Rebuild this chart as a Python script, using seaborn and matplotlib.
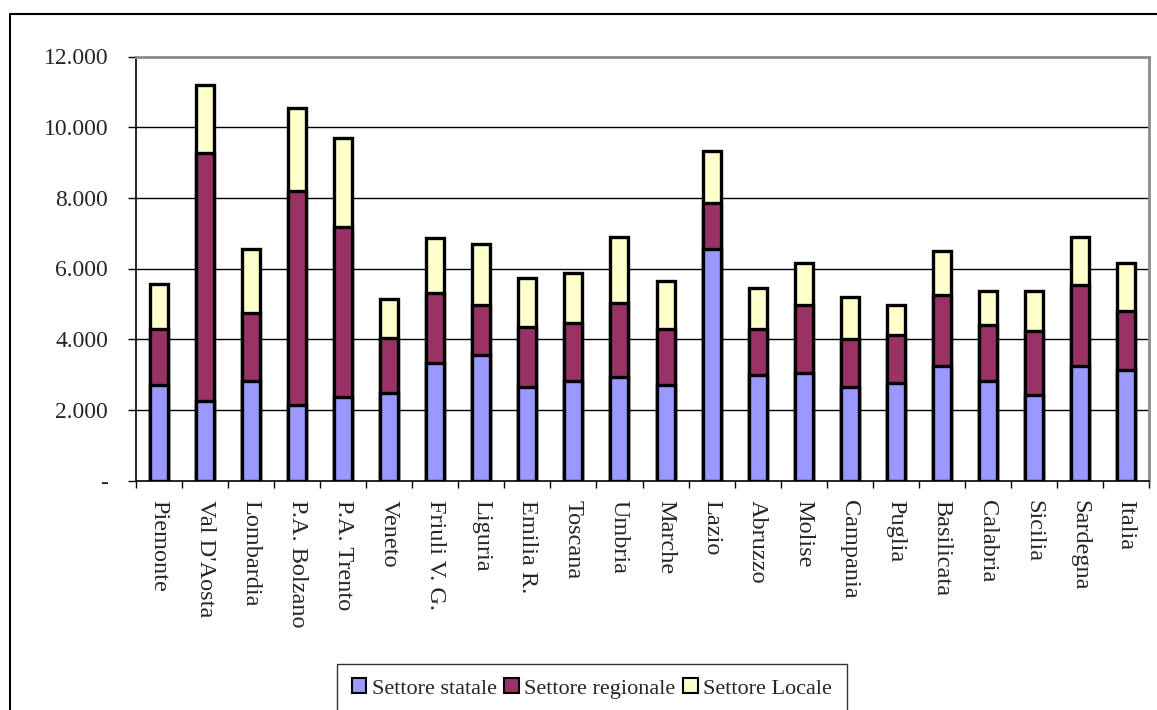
import numpy as np
import matplotlib
matplotlib.use("Agg")
import matplotlib.pyplot as plt
from matplotlib.patches import Patch
from matplotlib.lines import Line2D
from matplotlib.ticker import FuncFormatter
import seaborn as sns

# Per-capita spending by region, split by sector
regions = ["Piemonte", "Val D'Aosta", "Lombardia", "P.A. Bolzano", "P.A. Trento",
           "Veneto", "Friuli V. G.", "Liguria", "Emilia R.", "Toscana", "Umbria",
           "Marche", "Lazio", "Abruzzo", "Molise", "Campania", "Puglia",
           "Basilicata", "Calabria", "Sicilia", "Sardegna", "Italia"]

settore_statale = [2700, 2250, 2810, 2150, 2370, 2480, 3330, 3560, 2650, 2820, 2930,
                   2700, 6560, 2980, 3050, 2650, 2760, 3230, 2810, 2430, 3230, 3120]
settore_regionale = [1590, 7020, 1930, 6050, 4800, 1540, 1990, 1420, 1700, 1640, 2100,
                     1590, 1300, 1310, 1910, 1350, 1350, 2020, 1590, 1810, 2300, 1690]
settore_locale = [1260, 1930, 1820, 2330, 2520, 1130, 1540, 1700, 1370, 1420, 1870,
                  1360, 1470, 1150, 1200, 1200, 860, 1250, 970, 1130, 1370, 1350]

series_names = ["Settore statale", "Settore regionale", "Settore Locale"]
series_colors = ["#9999FF", "#993366", "#FFFFCC"]

yticks = [0, 2000, 4000, 6000, 8000, 10000, 12000]

sns.set_style("white")
plt.rcParams["font.family"] = ["Liberation Serif", "DejaVu Serif"]

fig = plt.figure(figsize=(11.57, 7.10), dpi=100)
ax = fig.add_axes([136 / 1157, 1 - 480.5 / 710, (1149 - 136) / 1157, (480.5 - 56.5) / 710])

statale = np.array(settore_statale)
cum_reg = statale + np.array(settore_regionale)
cum_tot = cum_reg + np.array(settore_locale)

# stacked bars: draw the tallest layer first, then overlay the lower segments
for heights, col in zip([cum_tot, cum_reg, statale], series_colors[::-1]):
    sns.barplot(x=regions, y=heights, color=col, width=0.39, saturation=1,
                edgecolor="black", linewidth=2.4, ax=ax, zorder=3)

ax.set_xlim(-0.5, len(regions) - 0.5)
ax.set_ylim(0, 12000)
ax.set_xlabel("")
ax.set_ylabel("")

# horizontal gridlines
for v in yticks[1:-1]:
    ax.axhline(v, color="black", linewidth=1.0, zorder=1)

ax.set_yticks(yticks)
ax.yaxis.set_major_formatter(FuncFormatter(
    lambda v, p: "-" if v == 0 else f"{int(v):,}".replace(",", ".")))
ax.tick_params(axis="y", direction="out", length=6, width=1, color="black",
               labelsize=17, pad=14, left=True)

# x ticks sit on category boundaries, labels at category centres
ax.set_xticks(np.arange(-0.5, len(regions), 1))
ax.set_xticklabels([])
ax.set_xticks(np.arange(len(regions)), minor=True)
ax.set_xticklabels(regions, minor=True, rotation=-90, ha="center", va="top")
ax.tick_params(axis="x", which="major", direction="out", length=5, width=1,
               color="black", bottom=True)
ax.tick_params(axis="x", which="minor", length=0, labelsize=17.5, pad=14)

for side in ["left", "bottom"]:
    ax.spines[side].set_color("black")
    ax.spines[side].set_linewidth(1.2)
for side in ["top", "right"]:
    ax.spines[side].set_color("#8c8c8c")
    ax.spines[side].set_linewidth(2)

handles = [Patch(facecolor=c, edgecolor="black", linewidth=1.5) for c in series_colors]
leg = fig.legend(handles, series_names, loc="upper center",
                 bbox_to_anchor=(592 / 1157, 1 - 664 / 710), ncol=3,
                 fontsize=16, frameon=True, fancybox=False, edgecolor="black",
                 handlelength=0.65, handleheight=0.65, handletextpad=0.25,
                 columnspacing=0.35, borderpad=0.65, borderaxespad=0)
leg.get_frame().set_linewidth(1.0)

# outer chart frame
fig.add_artist(Line2D([10 / 1157, 1.0], [1 - 14 / 710, 1 - 14 / 710],
                      transform=fig.transFigure, color="black", linewidth=1.5))
fig.add_artist(Line2D([10 / 1157, 10 / 1157], [0.0, 1 - 14 / 710],
                      transform=fig.transFigure, color="black", linewidth=1.5))

fig.savefig("out.png", dpi=100, facecolor="white")
